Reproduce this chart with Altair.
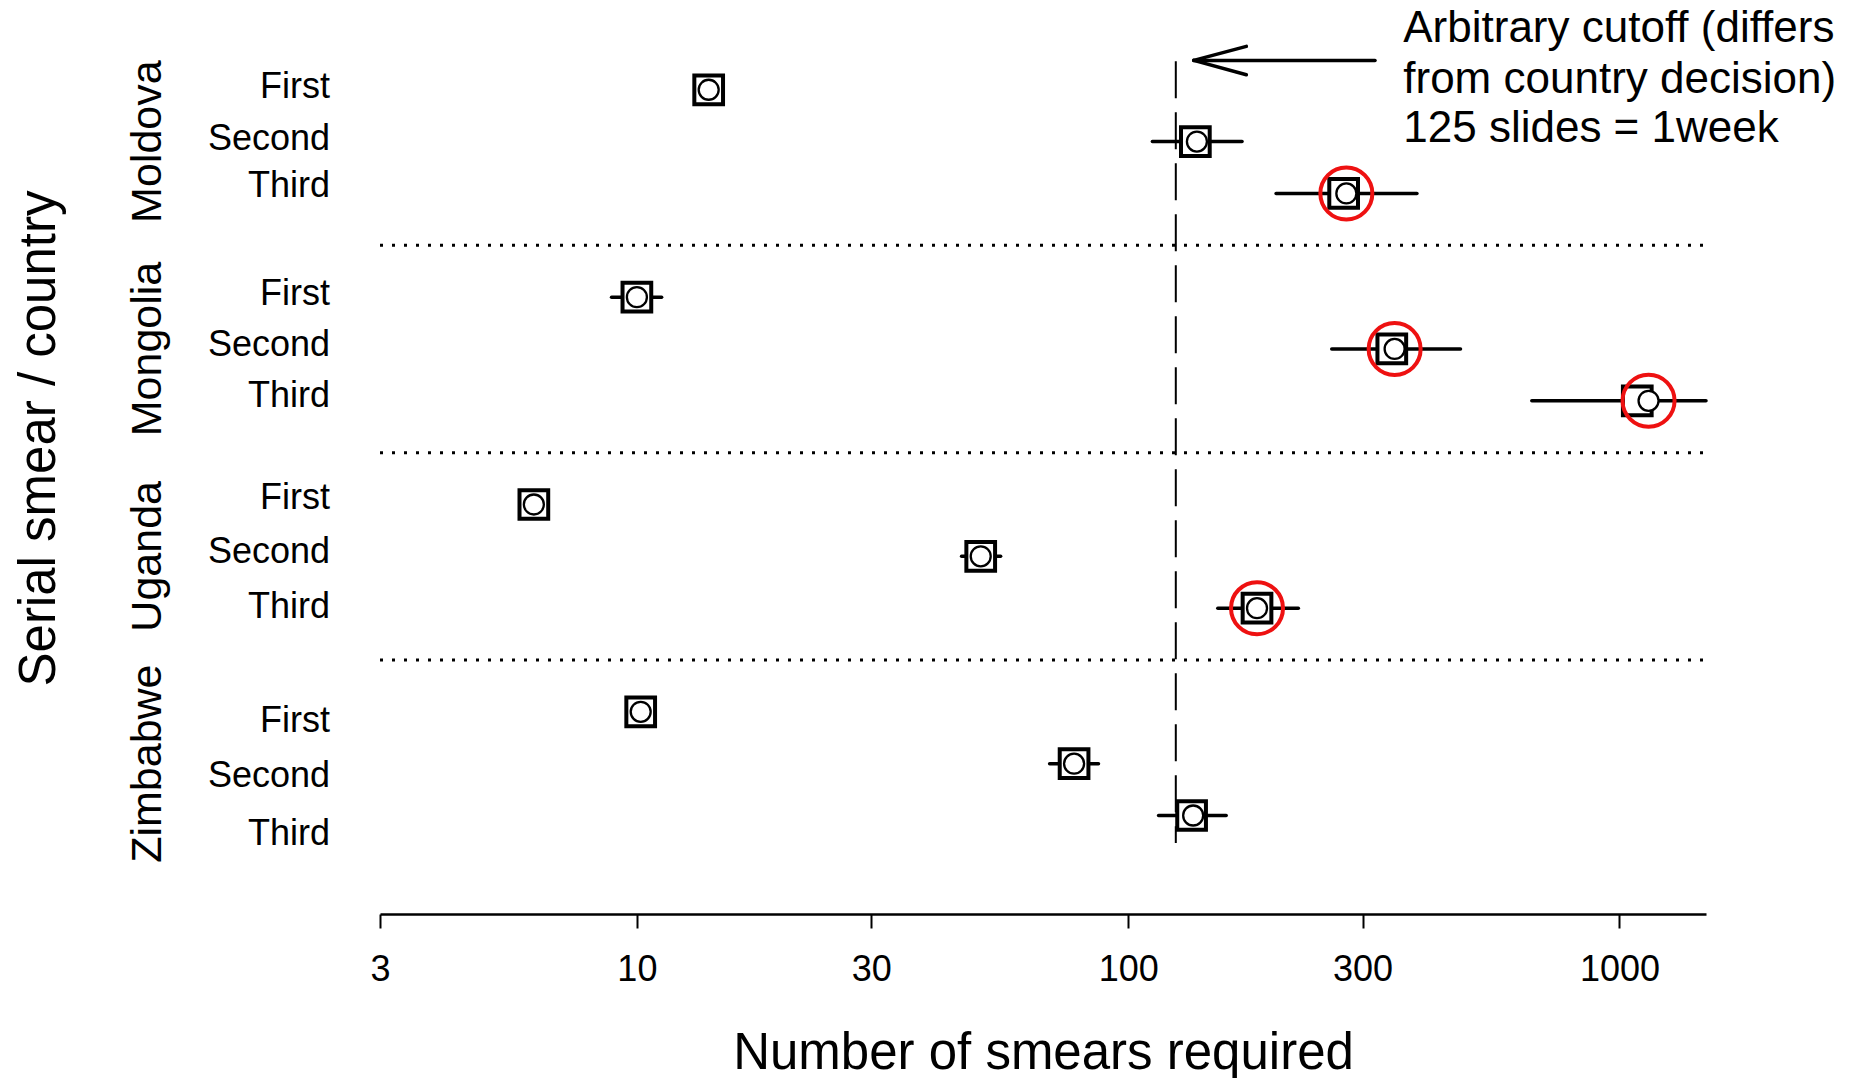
import altair as alt
import pandas as pd

countries = ["Moldova", "Mongolia", "Uganda", "Zimbabwe"]
smears = ["First", "Second", "Third"]
# values per (country, smear), in reading order
square_val = [14.0, 137.0, 274.5, 10.0, 344.0, 1087.0, 6.17, 50.1, 182.9, 10.18, 77.6, 134.6]
circle_val = [14.0, 138.0, 278.0, 10.0, 348.6, 1146.0, 6.17, 50.1, 182.9, 10.18, 77.6, 135.6]
lower_val = [14.0, 112.0, 200.0, 8.88, 259.6, 663.0, 6.17, 45.8, 152.2, 10.18, 69.2, 115.3]
upper_val = [14.0, 170.5, 387.0, 11.23, 474.7, 1500.0, 6.17, 55.0, 222.0, 10.18, 87.0, 158.3]
flagged = [False, False, True, False, True, True, False, False, True, False, False, False]
# row labels sit slightly off the point rows in the original
label_rows = [-0.05, 0.94, 1.85, 3.94, 4.92, 5.90, 7.87, 8.92, 9.98, 12.17, 13.23, 14.35]

cutoff = 125
x_ticks = [3, 10, 30, 100, 300, 1000]
separators = [3, 7, 11]
annotation_lines = ["Arbitrary cutoff (differs", "from country decision)", "125 slides = 1week"]
annotation_rows = [-1.17, -0.19, 0.75]
annotation_x = 363
arrow_x = [318, 136, 136]
arrow_x2 = [136, 174, 174]
arrow_y = [-0.567, -0.567, -0.567]
arrow_y2 = [-0.567, -0.837, -0.291]
cutoff_rows = [-0.55, 14.53]

rows = []
for gi, c in enumerate(countries):
    for si, s in enumerate(smears):
        k = gi * 3 + si
        rows.append(dict(country=c, smear=s, row=gi * 4 + si, lrow=label_rows[k],
                         sq=square_val[k], ci=circle_val[k], lo=lower_val[k], hi=upper_val[k],
                         red=flagged[k]))
df = pd.DataFrame(rows)

country_df = pd.DataFrame({"country": countries, "row": [gi * 4 + 1 for gi in range(len(countries))]})
sep_df = pd.DataFrame({"row": separators, "x": [3] * len(separators), "x2": [1500] * len(separators)})
cut_df = pd.DataFrame({"x": [cutoff], "y": [cutoff_rows[0]], "y2": [cutoff_rows[1]]})
ann_df = pd.DataFrame({"text": annotation_lines, "row": annotation_rows, "x": [annotation_x] * 3})
arrow_df = pd.DataFrame({"x": arrow_x, "x2": arrow_x2, "y": arrow_y, "y2": arrow_y2})

FONT = "Liberation Sans"
xscale = alt.Scale(type="log", domain=[3, 1500], nice=False)
yscale = alt.Scale(domain=[-1.346, 15.9], reverse=True, nice=False, zero=False)

xaxis = alt.Axis(values=x_ticks, format="d", title="Number of smears required",
                 grid=False, domainColor="black", domainWidth=2.5, tickColor="black",
                 tickWidth=2, tickSize=14, labelFontSize=36, labelColor="black",
                 labelPadding=24, labelFont=FONT, titleFont=FONT, titleFontSize=51,
                 titleFontWeight="normal", titleColor="black", titleBaseline="alphabetic",
                 titleY=154, labelFlush=False)
yaxis = alt.Axis(values=[0, 1, 2, 4, 5, 6, 8, 9, 10, 12, 13, 14], labels=False,
                 domain=False, ticks=False, grid=False, title="Serial smear / country",
                 titleFont=FONT, titleFontSize=51, titleFontWeight="normal", titleColor="black",
                 titleAngle=270, titleX=-341, titleY=418, titleAlign="center",
                 titleBaseline="middle")

base = alt.Chart(df)

seps = alt.Chart(sep_df).mark_rule(color="black", strokeWidth=3, strokeDash=[3, 9]).encode(
    x=alt.X("x:Q", scale=xscale, axis=xaxis), x2="x2:Q",
    y=alt.Y("row:Q", scale=yscale, axis=yaxis))

cut = alt.Chart(cut_df).mark_rule(color="black", strokeWidth=2, strokeDash=[37, 14]).encode(
    x=alt.X("x:Q", scale=xscale, axis=xaxis),
    y=alt.Y("y:Q", scale=yscale, axis=yaxis), y2="y2:Q")

err = base.mark_rule(color="black", strokeWidth=3.5, strokeCap="round").encode(
    x=alt.X("lo:Q", scale=xscale, axis=xaxis), x2="hi:Q",
    y=alt.Y("row:Q", scale=yscale, axis=yaxis))

squares = base.mark_point(shape="square", filled=False, fill="white", fillOpacity=1,
                          stroke="black", strokeWidth=4, size=824, opacity=1).encode(
    x=alt.X("sq:Q", scale=xscale, axis=xaxis),
    y=alt.Y("row:Q", scale=yscale, axis=yaxis))

circles = base.mark_point(shape="circle", filled=False, fill="white", fillOpacity=1,
                          stroke="black", strokeWidth=2.3, size=400, opacity=1).encode(
    x=alt.X("ci:Q", scale=xscale, axis=xaxis),
    y=alt.Y("row:Q", scale=yscale, axis=yaxis))

reds = base.transform_filter("datum.red").mark_point(
    shape="circle", filled=False, stroke="#ee1111", strokeWidth=4, size=2704, opacity=1).encode(
    x=alt.X("ci:Q", scale=xscale, axis=xaxis),
    y=alt.Y("row:Q", scale=yscale, axis=yaxis))

row_labels = base.mark_text(
    align="right", baseline="middle", fontSize=36, font=FONT, color="black").encode(
    x=alt.value(-50), y=alt.Y("lrow:Q", scale=yscale, axis=yaxis), text="smear:N")

country_txt = alt.Chart(country_df).mark_text(
    angle=270, align="center", baseline="middle", fontSize=43, font=FONT, color="black").encode(
    x=alt.value(-231.6), y=alt.Y("row:Q", scale=yscale, axis=yaxis), text="country:N")

ann = alt.Chart(ann_df).mark_text(
    align="left", baseline="middle", fontSize=44, font=FONT, color="black").encode(
    x=alt.X("x:Q", scale=xscale, axis=xaxis), y=alt.Y("row:Q", scale=yscale, axis=yaxis),
    text="text:N")

arrow = alt.Chart(arrow_df).mark_rule(color="black", strokeWidth=3.5, strokeCap="round").encode(
    x=alt.X("x:Q", scale=xscale, axis=xaxis), x2="x2:Q",
    y=alt.Y("y:Q", scale=yscale, axis=yaxis), y2="y2:Q")

chart = alt.layer(seps, cut, err, squares, circles, reds, row_labels, country_txt, ann,
                  arrow).properties(
    width=1326, height=894,
    autosize=alt.AutoSizeParams(type="none"),
    padding={"left": 372, "top": 12, "right": 145, "bottom": 164},
    background="white",
).configure_view(stroke=None)

chart.save("out.html", embed_options={"renderer": "svg", "actions": False})
